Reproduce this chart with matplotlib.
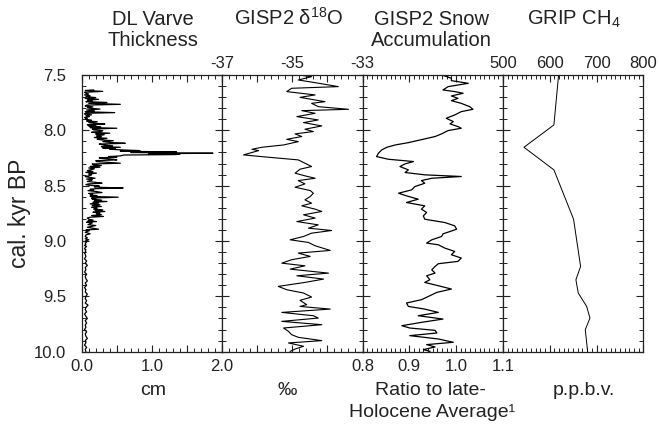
import matplotlib
matplotlib.use('Agg')
import matplotlib.pyplot as plt
from matplotlib.ticker import MultipleLocator

plt.rcParams['font.family'] = ['Liberation Sans', 'DejaVu Sans']
plt.rcParams['mathtext.fontset'] = 'custom'
plt.rcParams['mathtext.rm'] = 'Liberation Sans'
plt.rcParams['axes.unicode_minus'] = False

# DL varve thickness (cm) vs age (cal. kyr BP)
varve_age = [7.635, 7.640, 7.648, 7.656, 7.665, 7.672, 7.680, 7.688, 7.696, 7.704,
             7.712, 7.720, 7.728, 7.735, 7.741, 7.748, 7.756, 7.765, 7.772, 7.780,
             7.788, 7.795, 7.801, 7.808, 7.816, 7.824, 7.832, 7.840, 7.846, 7.852,
             7.860, 7.868, 7.876, 7.884, 7.892, 7.900, 7.908, 7.916, 7.922, 7.930,
             7.936, 7.942, 7.950, 7.955, 7.960, 7.968, 7.975, 7.981, 7.988, 7.996,
             8.003, 8.011, 8.018, 8.026, 8.033, 8.040, 8.050, 8.057, 8.065, 8.072,
             8.080, 8.087, 8.094, 8.102, 8.110, 8.117, 8.124, 8.132, 8.140, 8.147,
             8.153, 8.160, 8.166, 8.171, 8.177, 8.183, 8.189, 8.195, 8.200, 8.205,
             8.207, 8.211, 8.215, 8.219, 8.223, 8.231, 8.237, 8.243, 8.249, 8.255,
             8.261, 8.267, 8.274, 8.282, 8.290, 8.297, 8.304, 8.312, 8.318, 8.326,
             8.333, 8.340, 8.348, 8.357, 8.364, 8.372, 8.380, 8.387, 8.395, 8.403,
             8.411, 8.418, 8.426, 8.433, 8.440, 8.447, 8.454, 8.462, 8.470, 8.478,
             8.484, 8.490, 8.496, 8.503, 8.510, 8.516, 8.520, 8.527, 8.533, 8.538,
             8.545, 8.552, 8.562, 8.570, 8.577, 8.583, 8.590, 8.597, 8.604, 8.612,
             8.618, 8.622, 8.630, 8.637, 8.643, 8.650, 8.657, 8.664, 8.672, 8.680,
             8.688, 8.695, 8.703, 8.712, 8.718, 8.725, 8.733, 8.740, 8.747, 8.754,
             8.762, 8.770, 8.778, 8.785, 8.792, 8.803, 8.810, 8.817, 8.824, 8.830,
             8.837, 8.845, 8.852, 8.860, 8.869, 8.876, 8.885, 8.893, 8.900, 8.907,
             8.914, 8.922, 8.928, 8.935, 8.945, 8.959, 8.970, 8.980, 8.989, 9.000,
             9.010, 9.019, 9.030, 9.040, 9.049, 9.060, 9.070, 9.079, 9.090, 9.100,
             9.109, 9.120, 9.14, 9.16, 9.18, 9.20, 9.22, 9.24, 9.26, 9.28,
             9.30, 9.32, 9.34, 9.36, 9.38, 9.40, 9.42, 9.44, 9.46, 9.48,
             9.50, 9.52, 9.54, 9.56, 9.58, 9.60, 9.62, 9.64, 9.66, 9.68,
             9.70, 9.72, 9.74, 9.76, 9.78, 9.80, 9.82, 9.84, 9.86, 9.88,
             9.90, 9.92, 9.94, 9.96, 9.98, 10.00]
varve_cm = [0.17, 0.05, 0.30, 0.04, 0.06, 0.10, 0.04, 0.12, 0.06, 0.20,
            0.05, 0.24, 0.08, 0.15, 0.06, 0.36, 0.10, 0.55, 0.07, 0.05,
            0.16, 0.08, 0.12, 0.26, 0.07, 0.18, 0.05, 0.47, 0.06, 0.04,
            0.14, 0.06, 0.11, 0.04, 0.08, 0.05, 0.14, 0.07, 0.22, 0.10,
            0.18, 0.33, 0.08, 0.20, 0.10, 0.27, 0.12, 0.50, 0.15, 0.17,
            0.30, 0.26, 0.14, 0.40, 0.20, 0.32, 0.21, 0.28, 0.18, 0.36,
            0.22, 0.29, 0.45, 0.30, 0.42, 0.62, 0.25, 0.31, 0.44, 0.28,
            0.55, 0.30, 0.48, 0.40, 0.58, 0.83, 0.55, 1.35, 0.70, 1.40,
            1.87, 0.95, 1.40, 1.33, 0.60, 0.55, 0.38, 0.50, 0.25, 0.31,
            0.45, 0.50, 0.20, 0.21, 0.38, 0.55, 0.15, 0.17, 0.28, 0.12,
            0.26, 0.10, 0.18, 0.12, 0.08, 0.16, 0.06, 0.21, 0.10, 0.14,
            0.10, 0.05, 0.12, 0.19, 0.07, 0.15, 0.12, 0.08, 0.20, 0.29,
            0.10, 0.06, 0.10, 0.25, 0.18, 0.30, 0.59, 0.20, 0.12, 0.17,
            0.09, 0.20, 0.29, 0.10, 0.15, 0.12, 0.22, 0.12, 0.52, 0.14,
            0.20, 0.15, 0.28, 0.18, 0.36, 0.16, 0.24, 0.12, 0.26, 0.15,
            0.28, 0.14, 0.22, 0.17, 0.30, 0.19, 0.33, 0.16, 0.26, 0.21,
            0.28, 0.14, 0.31, 0.12, 0.08, 0.10, 0.16, 0.09, 0.21, 0.07,
            0.15, 0.12, 0.09, 0.20, 0.13, 0.08, 0.17, 0.24, 0.06, 0.11,
            0.07, 0.05, 0.09, 0.12, 0.06, 0.05, 0.08, 0.05, 0.10, 0.05,
            0.07, 0.05, 0.06, 0.04, 0.07, 0.05, 0.04, 0.06, 0.05, 0.06,
            0.04, 0.05, 0.06, 0.04, 0.07, 0.05, 0.08, 0.05, 0.06, 0.04,
            0.07, 0.05, 0.06, 0.08, 0.05, 0.07, 0.04, 0.06, 0.05, 0.08,
            0.06, 0.05, 0.07, 0.05, 0.09, 0.06, 0.05, 0.07, 0.04, 0.06,
            0.08, 0.05, 0.07, 0.05, 0.06, 0.04, 0.07, 0.05, 0.06, 0.08,
            0.05, 0.06, 0.04, 0.07, 0.05, 0.06]

# GISP2 d18O (permil)
d18o_age = [7.500, 7.515, 7.545, 7.569, 7.605, 7.620, 7.650, 7.680, 7.702, 7.741,
            7.756, 7.786, 7.810, 7.822, 7.846, 7.876, 7.906, 7.930, 7.960, 7.990,
            8.011, 8.032, 8.056, 8.081, 8.102, 8.132, 8.153, 8.171, 8.183, 8.222,
            8.243, 8.267, 8.297, 8.327, 8.351, 8.387, 8.411, 8.433, 8.454, 8.484,
            8.514, 8.544, 8.568, 8.598, 8.628, 8.658, 8.682, 8.712, 8.733, 8.763,
            8.793, 8.824, 8.854, 8.884, 8.905, 8.929, 8.959, 8.989, 9.013, 9.043,
            9.085, 9.109, 9.139, 9.169, 9.200, 9.224, 9.254, 9.290, 9.314, 9.344,
            9.374, 9.410, 9.440, 9.470, 9.506, 9.536, 9.575, 9.591, 9.615, 9.645,
            9.675, 9.696, 9.726, 9.756, 9.786, 9.816, 9.846, 9.870, 9.900, 9.921,
            9.951, 9.976, 9.997]
d18o_val = [-34.83, -34.45, -34.83, -34.35, -33.69, -35.02, -35.16, -34.35, -34.78, -34.07,
            -34.45, -34.26, -33.40, -34.73, -34.35, -34.87, -34.26, -34.68, -34.16, -34.64,
            -34.40, -34.92, -34.73, -35.16, -34.83, -35.25, -35.87, -36.15, -35.96, -36.39,
            -35.68, -34.83, -34.64, -34.45, -34.78, -34.92, -34.64, -34.35, -34.83, -34.64,
            -34.92, -34.49, -34.40, -34.49, -34.64, -34.45, -34.73, -34.35, -34.16, -34.68,
            -34.35, -34.87, -34.26, -34.54, -33.88, -34.45, -34.68, -35.06, -34.54, -34.35,
            -33.92, -34.83, -34.49, -35.02, -35.30, -34.64, -35.06, -33.97, -34.87, -34.11,
            -34.64, -35.40, -35.16, -34.68, -34.45, -34.78, -34.59, -34.78, -33.92, -35.30,
            -34.40, -34.26, -35.30, -34.16, -35.25, -35.11, -35.02, -34.83, -34.16, -35.11,
            -34.68, -34.92, -35.06]

# GISP2 snow accumulation (ratio to late-Holocene average)
accum_age = [7.500, 7.530, 7.551, 7.575, 7.605, 7.635, 7.650, 7.665, 7.689, 7.711,
             7.732, 7.756, 7.786, 7.810, 7.831, 7.861, 7.891, 7.921, 7.942, 7.966,
             7.981, 8.002, 8.032, 8.056, 8.087, 8.111, 8.132, 8.153, 8.177, 8.207,
             8.237, 8.261, 8.282, 8.303, 8.327, 8.357, 8.381, 8.402, 8.417, 8.433,
             8.454, 8.478, 8.508, 8.538, 8.568, 8.592, 8.622, 8.652, 8.682, 8.712,
             8.742, 8.773, 8.803, 8.833, 8.863, 8.893, 8.914, 8.935, 8.959, 8.989,
             9.019, 9.034, 9.064, 9.094, 9.124, 9.154, 9.184, 9.205, 9.230, 9.260,
             9.290, 9.314, 9.350, 9.374, 9.404, 9.434, 9.464, 9.494, 9.530, 9.560,
             9.591, 9.615, 9.645, 9.675, 9.705, 9.735, 9.765, 9.786, 9.807, 9.831,
             9.855, 9.885, 9.915, 9.936, 9.957, 9.981, 9.997]
accum_val = [0.970, 0.990, 0.990, 1.026, 0.983, 0.972, 0.997, 1.015, 0.990, 1.004,
             0.990, 1.011, 1.029, 1.036, 1.011, 0.997, 0.979, 0.994, 0.987, 1.004,
             1.011, 0.983, 0.969, 0.955, 0.923, 0.898, 0.870, 0.852, 0.841, 0.834,
             0.830, 0.855, 0.909, 0.891, 0.880, 0.898, 0.891, 0.933, 1.011, 0.948,
             0.926, 0.933, 0.912, 0.905, 0.877, 0.894, 0.919, 0.894, 0.933, 0.926,
             0.937, 0.930, 0.933, 0.976, 0.997, 1.001, 0.987, 0.972, 0.969, 0.948,
             0.937, 0.962, 0.976, 0.997, 0.990, 1.011, 1.004, 0.962, 0.955, 0.948,
             0.955, 0.937, 0.944, 0.933, 0.962, 0.990, 0.959, 0.944, 0.926, 0.894,
             0.898, 0.933, 0.962, 0.919, 0.972, 0.926, 0.884, 0.901, 0.955, 0.959,
             0.901, 0.962, 0.994, 0.937, 0.955, 0.930, 0.944]

# GRIP CH4 (p.p.b.v.)
ch4_age = [7.500, 7.951, 8.153, 8.357, 8.803, 9.230, 9.350, 9.470, 9.591, 9.696, 9.801, 9.997]
ch4_val = [619, 609, 545, 609, 651, 666, 656, 661, 679, 686, 676, 681]

ink = '#222222'
fig = plt.figure(figsize=(6.59, 4.24), dpi=100)

W, H = 659.0, 424.0
left, pw = 81.7, 140.4
top, bot = 75.0, 351.7

axes = []
for i in range(4):
    ax = fig.add_axes([(left + i * pw) / W, 1 - bot / H, pw / W, (bot - top) / H])
    ax.set_ylim(10.0, 7.5)
    ax.yaxis.set_major_locator(MultipleLocator(0.5))
    ax.yaxis.set_minor_locator(MultipleLocator(0.1))
    ax.tick_params(which='both', direction='in', top=True, bottom=True, left=True, right=True,
                   colors=ink, labelsize=12, labelleft=False, labelbottom=False, labeltop=False)
    ax.tick_params(which='major', length=5, width=0.8)
    ax.tick_params(which='minor', length=2.8, width=0.7)
    for s in ax.spines.values():
        s.set_linewidth(0.9)
        s.set_color(ink)
    axes.append(ax)

ax1, ax2, ax3, ax4 = axes

# panel 1: varves
ax1.plot(varve_cm, varve_age, color='black', lw=0.9)
ax1.set_xlim(0, 2)
ax1.set_xticks([0, 0.5, 1.0, 1.5, 2.0], ['0.0', '', '1.0', '', '2.0'])
ax1.xaxis.set_minor_locator(MultipleLocator(0.1))
ax1.tick_params(labelleft=True, labelbottom=True, pad=5)
ax1.tick_params(axis='y', pad=11)
ax1.set_ylabel('cal. kyr BP', fontsize=16.5, color=ink, labelpad=2)

# panel 2: d18O
ax2.plot(d18o_val, d18o_age, color='black', lw=0.8)
ax2.set_xlim(-37, -33)
ax2.set_xticks([-37, -36, -35, -34, -33], ['-37', '', '-35', '', '-33'])
ax2.xaxis.set_minor_locator(MultipleLocator(0.2))
ax2.tick_params(labeltop=True, pad=3)

# panel 3: accumulation
ax3.plot(accum_val, accum_age, color='black', lw=0.9)
ax3.set_xlim(0.8, 1.1)
ax3.set_xticks([0.8, 0.9, 1.0, 1.1], ['0.8', '0.9', '1.0', '1.1'])
ax3.xaxis.set_minor_locator(MultipleLocator(0.01))
ax3.tick_params(labelbottom=True, pad=5)

# panel 4: CH4
ax4.plot(ch4_val, ch4_age, color='black', lw=0.7)
ax4.set_xlim(500, 800)
ax4.set_xticks([500, 600, 700, 800], ['500', '600', '700', '800'])
ax4.xaxis.set_minor_locator(MultipleLocator(10))
ax4.tick_params(labeltop=True, pad=3)

# titles above panels, unit labels below
def ftext(x, y, s, size=14.5):
    fig.text(x / W, 1 - y / H, s, ha='center', va='baseline', fontsize=size, color=ink)

ftext(153, 25, 'DL Varve')
ftext(153, 46, 'Thickness')
ftext(289, 25, r'GISP2 δ$^{18}$O')
ftext(431, 25, 'GISP2 Snow')
ftext(431, 46, 'Accumulation')
ftext(574, 25, r'GRIP CH$_4$')

ftext(153, 395, 'cm', 14)
ftext(287, 395, '‰', 14)
ftext(430, 395, 'Ratio to late-', 14)
ftext(432, 417, 'Holocene Average¹', 14)
ftext(584, 395, 'p.p.b.v.', 14)

fig.savefig('out.png', dpi=100)
